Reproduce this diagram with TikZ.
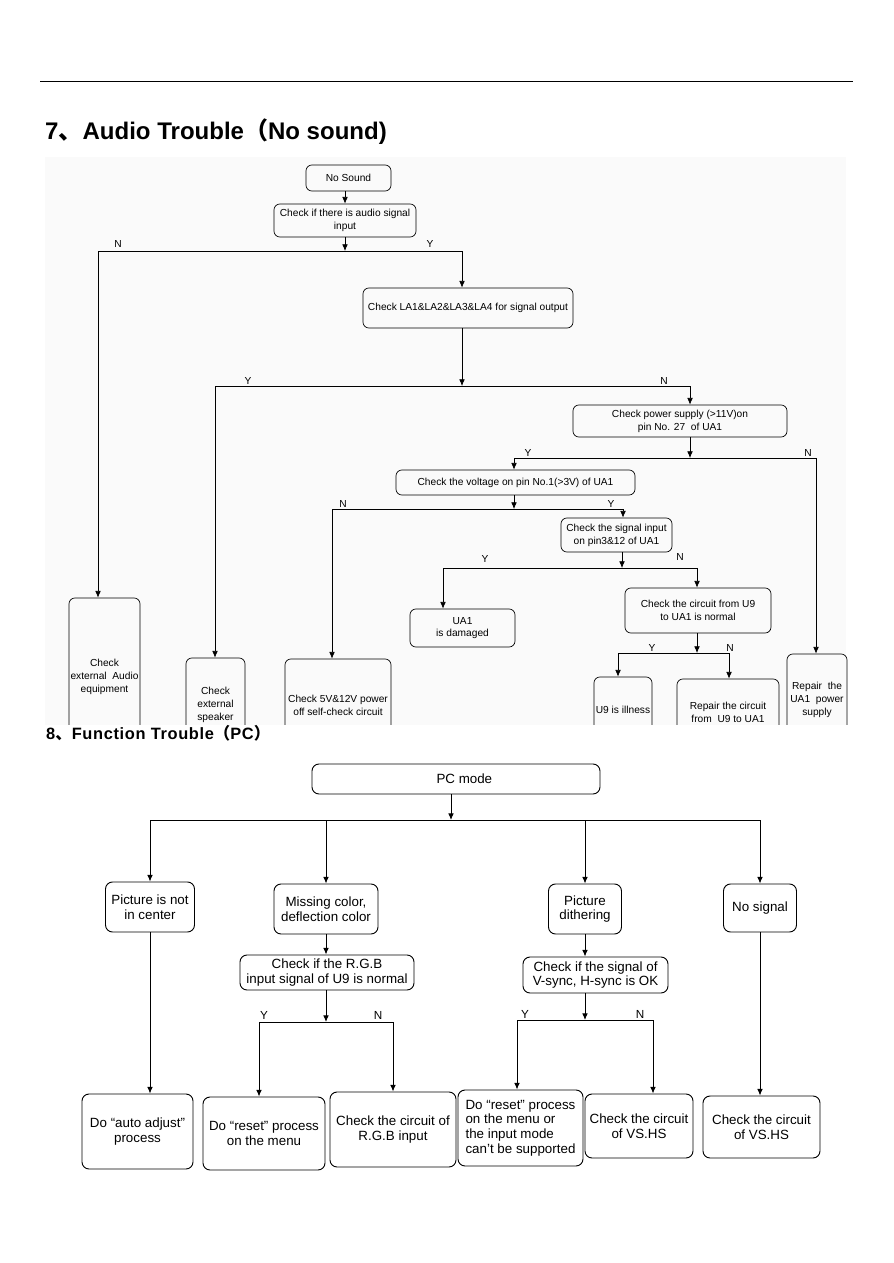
\documentclass[tikz,border=0pt]{standalone}
\usepackage{fontspec}
\setmainfont{Liberation Sans}
\newfontfamily\cjk{Noto Sans CJK SC}
\newfontfamily\widesans{Liberation Sans}[LetterSpace=4]
\usetikzlibrary{arrows.meta}

\tikzset{
  box7/.style 2 args={draw,rounded corners=5pt,inner sep=0pt,align=center,
    font=\fontsize{8.7}{11}\selectfont,minimum width=#1*0.03cm,minimum height=#2*0.03cm},
  box8/.style 2 args={draw,rounded corners=6pt,inner sep=0pt,align=center,
    font=\fontsize{11.4}{12.5}\selectfont,minimum width=#1*0.03cm,minimum height=#2*0.03cm},
  arr/.style={-{Latex[length=2mm,width=1.7mm]}},
  yn/.style={inner sep=0pt,font=\fontsize{8.7}{10}\selectfont},
}

\begin{document}
\begin{tikzpicture}[x=0.03cm,y=-0.03cm]
  \useasboundingbox (0,0) rectangle (893,1263);
  \draw[line width=0.8pt] (40,81) -- (853,81);
  \node[anchor=west,inner sep=0pt,font=\bfseries\fontsize{20.5}{24}\selectfont] (title7) at (45,132)
    {7{\cjk 、}Audio Trouble{\cjk （}No sound)};

  % 7: audio, the lowest boxes are cut off by the next section
  \fill[black!2] (45,157) rectangle (846,725);
  \begin{scope}[line width=0.6pt]
  \clip (0,150) rectangle (893,724.5);
  \node[box7={85}{26}] (nosnd) at (348.5,178) {No Sound};
  \node[box7={142}{33}] (chkin) at (345,220.5) {Check if there is audio signal\\input};
  \node[box7={210}{40}] (la) at (468,308) {Check LA1\&LA2\&LA3\&LA4 for signal output};
  \node[box7={214}{32}] (pwr) at (680,421) {Check power supply (>11V)on\\pin No. 27~ of UA1};
  \node[box7={239}{25}] (volt) at (515.5,482.5) {Check the voltage on pin No.1(>3V) of UA1};
  \node[box7={111}{34}] (sigin) at (616.5,535) {Check the signal input\\on pin3\&12 of UA1};
  \node[box7={105}{38}] (dmg) at (462.5,628) {UA1\\is damaged};
  \node[box7={146}{45}] (circ) at (698,610.5) {Check the circuit from U9\\to UA1 is normal};
  \node[box7={71}{158}] (extaudio) at (104.5,677) {Check\\external~ Audio\\equipment};
  \node[box7={59}{94}] (speaker) at (215.5,705) {Check\\external\\speaker};
  \node[box7={106}{92}] (chkfive) at (338,705) {Check 5V\&12V power\\off self-check circuit};
  \node[box7={58}{66}] (illness) at (623,710) {U9 is illness};
  \node[box7={102}{66}] (repcirc) at (728,712) {Repair the circuit\\from~ U9 to UA1};
  \node[box7={60}{92}] (repua) at (817,700) {Repair~ the\\UA1~ power\\supply};

  \draw[arr] (nosnd.south -| chkin) -- (chkin);
  \foreach \s/\y/\m/\l/\r in {a/251/345/98/462, b/386/462/215/690, c/458/690/514/816,
      d/509/514/332/623, e/568/622/443/697, f/653/697/618/729} {
    \coordinate (\s-m) at (\m,\y);
    \coordinate (\s-l) at (\l,\y);
    \coordinate (\s-r) at (\r,\y);
  }
  \foreach \s/\pa/\ca/\cb in {a/chkin/extaudio/la, b/la/speaker/pwr, c/pwr/volt/repua,
      d/volt/chkfive/sigin, e/sigin/dmg/circ, f/circ/illness/repcirc} {
    \draw[arr] (\pa.south -| \s-m) -- (\s-m);
    \draw (\s-l) -- (\s-r);
    \draw[arr] (\s-l) -- (\s-l |- \ca.north);
    \draw[arr] (\s-r) -- (\s-r |- \cb.north);
  }
  \foreach \t/\x/\y in {N/118/244, Y/430/244, Y/248/381, N/664/381, Y/528/453, N/808/453,
      N/343/504, Y/611/504, Y/485/559, N/680/557, Y/652/648, N/730/648}
    \node[yn] (yn7-\x) at (\x,\y) {\t};
  \end{scope}

  \node[anchor=west,inner sep=0pt,font=\widesans\bfseries\fontsize{14}{16}\selectfont] (title8) at (46,733)
    {8{\cjk 、}Function Trouble{\cjk （}PC{\cjk ）}};

  % 8: PC mode
  \begin{scope}[line width=0.8pt]
  \node[box8={288}{30}] (pcmode) at (456,779) {\hspace{0.5cm}PC mode};
  \node[box8={89}{50}] (notcenter) at (150,907) {Picture is not\\in center};
  \node[box8={104}{50}] (missing) at (326,909) {Missing color,\\deflection color};
  \node[box8={73}{50}] (dither) at (585,909) {Picture\\dithering};
  \node[box8={73}{48}] (nosig) at (760,908) {No signal};
  \node[box8={174}{35}] (rgb) at (327,972.5) {Check if the R.G.B\\input signal of U9 is normal};
  \node[box8={145}{36}] (vsync) at (595.5,975) {Check if the signal of\\V-sync, H-sync is OK};
  \node[box8={111}{75}] (autoadj) at (137.5,1131.5) {Do “auto adjust”\\process};
  \node[box8={122}{73}] (reset1) at (264,1133.5) {Do “reset” process\\on the menu};
  \node[box8={126}{75}] (rgbcirc) at (393,1129.5) {Check the circuit of\\R.G.B input};
  \node[box8={125}{76},align=left] (reset2) at (520.5,1128)
    {Do “reset” process\\on the menu or\\the input mode\\can’t be supported};
  \node[box8={108}{64}] (vscirc1) at (639,1126) {Check the circuit\\of VS.HS};
  \node[box8={117}{62}] (vscirc2) at (761.5,1127) {Check the circuit\\of VS.HS};

  \coordinate (g-m) at (451,820);
  \coordinate (g-l) at (150,820);
  \coordinate (g-r) at (760,820);
  \draw[arr] (pcmode.south -| g-m) -- (g-m);
  \draw (g-l) -- (g-r);
  \foreach \b in {notcenter,missing,dither,nosig}
    \draw[arr] (g-m -| \b) -- (\b.north);
  \draw[arr] (notcenter.south) -- (notcenter.south |- autoadj.north);
  \draw[arr] (missing.south) -- (missing.south |- rgb.north);
  \draw[arr] (dither.south) -- (dither.south |- vsync.north);
  \draw[arr] (nosig.south) -- (nosig.south |- vscirc2.north);
  \foreach \s/\y/\m/\l/\r in {h/1022/326/259/393, i/1020/585/517/653} {
    \coordinate (\s-m) at (\m,\y);
    \coordinate (\s-l) at (\l,\y);
    \coordinate (\s-r) at (\r,\y);
  }
  \foreach \s/\pa/\ca/\cb in {h/rgb/reset1/rgbcirc, i/vsync/reset2/vscirc1} {
    \draw[arr] (\pa.south -| \s-m) -- (\s-m);
    \draw (\s-l) -- (\s-r);
    \draw[arr] (\s-l) -- (\s-l |- \ca.north);
    \draw[arr] (\s-r) -- (\s-r |- \cb.north);
  }
  \foreach \t/\x/\y in {Y/264/1015, N/378/1015, Y/525/1014, N/640/1014}
    \node[yn,font=\fontsize{10}{11}\selectfont] (yn8-\x) at (\x,\y) {\t};
  \end{scope}
\end{tikzpicture}
\end{document}
